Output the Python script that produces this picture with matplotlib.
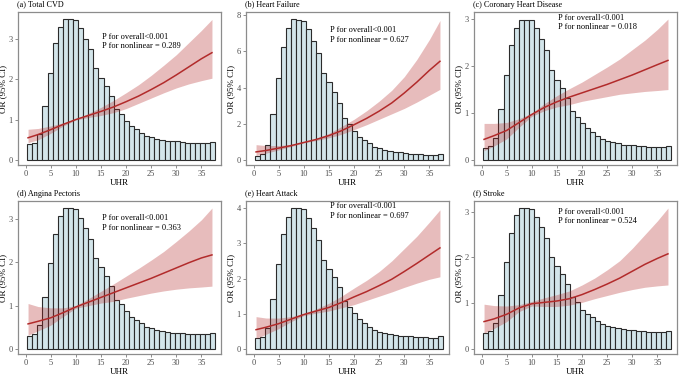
import numpy as np
import matplotlib
matplotlib.use("Agg")
import matplotlib.pyplot as plt

plt.rcParams['font.family'] = ['Liberation Serif', 'DejaVu Serif']

# panel titles and p-values
titles = ['(a) Total CVD', '(b) Heart Failure', '(c) Coronary Heart Disease',
          '(d) Angina Pectoris', '(e) Heart Attack', '(f) Stroke']
p_overall = ['<0.001'] * 6
p_nonlinear = ['0.289', '0.627', '0.018', '0.363', '0.697', '0.524']

# histogram of UHR (bar heights on each panel's OR scale), 37 bins
hist_a = [0.39, 0.43, 0.64, 1.33, 2.16, 2.89, 3.29, 3.48, 3.47, 3.46, 3.25, 2.99, 2.73, 2.26, 2.02, 1.84,
          1.59, 1.25, 1.14, 0.97, 0.84, 0.77, 0.68, 0.60, 0.56, 0.53, 0.50, 0.48, 0.46, 0.46, 0.44, 0.43,
          0.42, 0.41, 0.41, 0.41, 0.44]
hist_b = [0.24, 0.33, 0.82, 2.52, 4.53, 6.26, 7.30, 7.78, 7.74, 7.70, 7.23, 6.59, 5.90, 4.80, 4.29, 3.74,
          3.16, 2.34, 2.00, 1.62, 1.30, 1.12, 0.92, 0.74, 0.65, 0.58, 0.51, 0.46, 0.42, 0.40, 0.36, 0.34,
          0.32, 0.30, 0.30, 0.29, 0.33]
hist_c = [0.25, 0.29, 0.47, 1.09, 1.80, 2.44, 2.82, 2.99, 2.98, 2.97, 2.80, 2.57, 2.34, 1.91, 1.71, 1.54,
          1.33, 1.04, 0.92, 0.78, 0.68, 0.60, 0.51, 0.44, 0.40, 0.38, 0.36, 0.33, 0.32, 0.32, 0.30, 0.29,
          0.28, 0.27, 0.27, 0.27, 0.29]
hist_d = [0.31, 0.35, 0.56, 1.20, 1.98, 2.66, 3.07, 3.25, 3.24, 3.23, 3.03, 2.80, 2.54, 2.09, 1.89, 1.69,
          1.46, 1.13, 1.03, 0.87, 0.75, 0.68, 0.60, 0.52, 0.48, 0.45, 0.42, 0.40, 0.38, 0.38, 0.37, 0.35,
          0.34, 0.34, 0.34, 0.34, 0.36]
hist_e = [0.31, 0.35, 0.61, 1.43, 2.41, 3.25, 3.75, 4.00, 3.99, 3.96, 3.72, 3.42, 3.10, 2.54, 2.28, 2.04,
          1.76, 1.37, 1.20, 1.02, 0.85, 0.75, 0.64, 0.54, 0.49, 0.45, 0.42, 0.40, 0.38, 0.37, 0.36, 0.34,
          0.33, 0.33, 0.32, 0.32, 0.36]
hist_f = [0.36, 0.39, 0.58, 1.19, 1.90, 2.54, 2.92, 3.08, 3.08, 3.06, 2.88, 2.66, 2.43, 2.00, 1.82, 1.64,
          1.43, 1.13, 1.02, 0.86, 0.76, 0.70, 0.62, 0.55, 0.50, 0.48, 0.45, 0.43, 0.41, 0.41, 0.40, 0.39,
          0.38, 0.37, 0.37, 0.37, 0.40]
hists = [hist_a, hist_b, hist_c, hist_d, hist_e, hist_f]

# restricted cubic spline: OR with 95% CI
uhr = [0.5, 2.5, 5, 7.5, 10, 12.5, 15, 17.5, 20, 22.5, 25, 27.5, 30, 32.5, 35, 37.1]

or_a = [0.55, 0.63, 0.75, 0.88, 1.00, 1.10, 1.20, 1.31, 1.44, 1.58, 1.74, 1.91, 2.10, 2.30, 2.50, 2.65]
lo_a = [0.43, 0.50, 0.66, 0.84, 0.99, 1.05, 1.10, 1.17, 1.27, 1.40, 1.53, 1.66, 1.78, 1.88, 1.96, 2.02]
hi_a = [0.76, 0.78, 0.84, 0.92, 1.01, 1.15, 1.30, 1.47, 1.66, 1.86, 2.09, 2.34, 2.60, 2.90, 3.20, 3.47]

or_b = [0.45, 0.53, 0.66, 0.80, 0.97, 1.14, 1.35, 1.62, 1.95, 2.30, 2.70, 3.15, 3.70, 4.30, 4.95, 5.45]
lo_b = [0.25, 0.38, 0.56, 0.75, 0.95, 1.08, 1.23, 1.42, 1.68, 1.95, 2.25, 2.55, 2.85, 3.20, 3.58, 3.90]
hi_b = [0.85, 0.80, 0.80, 0.86, 0.99, 1.20, 1.47, 1.85, 2.25, 2.72, 3.25, 3.85, 4.60, 5.55, 6.65, 7.70]

or_c = [0.44, 0.52, 0.63, 0.80, 0.97, 1.12, 1.24, 1.34, 1.43, 1.52, 1.61, 1.71, 1.81, 1.92, 2.03, 2.12]
lo_c = [0.20, 0.30, 0.45, 0.70, 0.93, 1.05, 1.13, 1.18, 1.25, 1.30, 1.35, 1.40, 1.43, 1.46, 1.48, 1.50]
hi_c = [0.78, 0.78, 0.80, 0.88, 1.00, 1.20, 1.37, 1.52, 1.66, 1.82, 1.98, 2.15, 2.35, 2.55, 2.78, 3.00]

or_d = [0.58, 0.64, 0.72, 0.84, 0.97, 1.08, 1.19, 1.30, 1.41, 1.52, 1.63, 1.75, 1.87, 1.99, 2.10, 2.17]
lo_d = [0.32, 0.42, 0.55, 0.75, 0.94, 1.00, 1.06, 1.10, 1.17, 1.23, 1.29, 1.34, 1.38, 1.41, 1.43, 1.45]
hi_d = [1.05, 0.98, 0.95, 0.95, 1.00, 1.16, 1.33, 1.50, 1.68, 1.86, 2.05, 2.25, 2.48, 2.72, 2.98, 3.25]

or_e = [0.55, 0.62, 0.72, 0.85, 0.98, 1.08, 1.18, 1.32, 1.48, 1.63, 1.80, 1.98, 2.20, 2.43, 2.67, 2.87]
lo_e = [0.30, 0.42, 0.58, 0.78, 0.95, 1.02, 1.08, 1.17, 1.26, 1.38, 1.50, 1.62, 1.75, 1.87, 1.98, 2.05]
hi_e = [0.92, 0.88, 0.88, 0.92, 1.01, 1.14, 1.30, 1.50, 1.73, 1.95, 2.20, 2.50, 2.85, 3.20, 3.60, 3.95]

or_f = [0.60, 0.66, 0.76, 0.90, 0.99, 1.02, 1.05, 1.10, 1.19, 1.30, 1.42, 1.55, 1.70, 1.85, 1.98, 2.08]
lo_f = [0.35, 0.45, 0.60, 0.82, 0.94, 0.93, 0.93, 0.96, 1.02, 1.10, 1.17, 1.24, 1.30, 1.35, 1.38, 1.40]
hi_f = [0.98, 0.95, 0.94, 0.97, 1.04, 1.12, 1.19, 1.27, 1.40, 1.55, 1.73, 1.93, 2.20, 2.50, 2.80, 3.08]

ors = [or_a, or_b, or_c, or_d, or_e, or_f]
los = [lo_a, lo_b, lo_c, lo_d, lo_e, lo_f]
his = [hi_a, hi_b, hi_c, hi_d, hi_e, hi_f]

yticks = [[0, 1, 2, 3], [0, 2, 4, 6, 8], [0, 1, 2, 3], [0, 1, 2, 3], [0, 1, 2, 3, 4], [0, 1, 2, 3]]
text_y = [0.805, 0.85, 0.93, 0.856, 0.935, 0.90]   # axes fraction of the P text

edges = np.linspace(0.33, 37.8, 38)
width = edges[1] - edges[0]

fig = plt.figure(figsize=(6.85, 3.76), dpi=100)
W, H = 685, 376
lefts = [18, 246, 474]
bottoms = [165, 354]
aw, ah = 203, 153

for i in range(6):
    r, c = divmod(i, 3)
    ax = fig.add_axes([lefts[c] / W, 1 - bottoms[r] / H, aw / W, ah / H])
    ax.bar(edges[:-1], hists[i], width=width, align='edge', color='#d3e5ea',
           edgecolor='#2b2b2b', linewidth=0.8, zorder=1)
    ax.fill_between(uhr, los[i], his[i], color='#b22222', alpha=0.3, linewidth=0, zorder=2)
    ax.plot(uhr, ors[i], color='#b22b2b', linewidth=1.1, zorder=3)

    top = max(max(hists[i]), max(his[i]))
    ax.set_ylim(-0.035 * top, 1.05 * top)
    ax.set_xlim(-1.5, 38.9)
    ax.set_xticks([0, 5, 10, 15, 20, 25, 30, 35])
    ax.set_yticks(yticks[i])
    for s in ax.spines.values():
        s.set_color('#8c8c8c')
        s.set_linewidth(0.9)
    ax.tick_params(colors='#8c8c8c', labelcolor='#4d4d4d', labelsize=6, length=2.5, width=0.7, pad=1.2)
    ax.set_xlabel('UHR', fontsize=6.5, labelpad=0.3)
    ax.set_ylabel('OR (95% CI)', fontsize=6.5, labelpad=1)
    ax.text(-0.005, 1.022, titles[i], transform=ax.transAxes,
            fontsize=5.9, ha='left', va='bottom')
    ax.text(15.2, text_y[i], 'P for overall' + p_overall[i] + '\nP for nonlinear = ' + p_nonlinear[i],
            transform=ax.get_xaxis_transform(), fontsize=6, va='center', ha='left', linespacing=1.2)

fig.savefig('out.png', dpi=100)
